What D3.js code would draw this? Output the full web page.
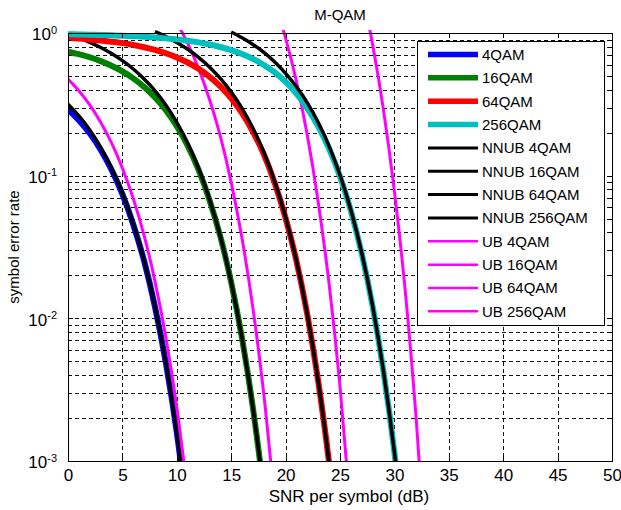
<!DOCTYPE html>
<html lang="en">
<head>
<meta charset="utf-8">
<title>M-QAM</title>
<script src="https://d3js.org/d3.v7.min.js"></script>
<style>
body{
  margin: 0;
  background: #fff;
}
text{
  font-family: Arial, "Liberation Sans", sans-serif;
  fill: #000;
}
.axis path, .axis line{
  fill: none;
  stroke: #000;
  shape-rendering: crispEdges;
}
.grid line{
  stroke: #111;
  stroke-dasharray: 4,3;
  shape-rendering: crispEdges;
}
</style>
</head>
<body>
<div id="chart"></div>
<script>
// values (SNR in dB, symbol error rate)
var snr4 = [0,1,2,3,4,5,6,7,8,9,10,11];
var ser4QAM  = [0.292,0.245,0.198,0.152,0.110,0.0742,0.0455,0.0252,0.0120,0.00487,0.00159,0.000394];
var nnub4QAM = [0.317,0.262,0.209,0.158,0.113,0.0756,0.0460,0.0253,0.01204,0.00488,0.00159,0.000394];
var ub4QAM   = [0.476,0.394,0.313,0.237,0.170,0.113,0.069,0.038,0.0181,0.00732,0.00238,0.00059];

var snr16 = [0,1,2,3,4,5,6,7,8,9,10,11,12,13,14,15,16,17,18,19];
var ser16QAM  = [0.741,0.710,0.676,0.635,0.589,0.538,0.481,0.419,0.354,0.288,0.222,0.162,0.1096,0.0675,0.0374,0.0179,0.00722,0.00235,0.000585,0.000101];
var nnub16QAM = [0.983,0.924,0.861,0.792,0.718,0.640,0.559,0.4755,0.393,0.312,0.236,0.169,0.1128,0.0687,0.0377,0.0179,0.00723,0.00235,0.000585,0.000101];
var snrUb16 = [10,11,12,13,14,15,16,17,18,19];
var ub16QAM = [1.18,0.846,0.564,0.3435,0.189,0.0897,0.0362,0.01175,0.00293,0.000504];

var snr64 = [0,1,2,3,4,5,6,7,8,9,10,11,12,13,14,15,16,17,18,19,20,21,22,23,24,25];
var ser64QAM = [0.924,0.914,0.901,0.887,0.869,0.849,0.824,0.795,0.761,0.721,0.674,0.621,0.561,0.494,0.422,0.348,0.274,0.203,0.141,0.0889,0.0504,0.0252,0.0106,0.00361,0.000965,0.000185];
var snrNnub64 = [8,9,10,11,12,13,14,15,16,17,18,19,20,21,22,23,24,25];
var nnub64QAM = [1.022,0.943,0.858,0.769,0.675,0.578,0.480,0.385,0.296,0.215,0.146,0.091,0.0511,0.0253,0.0106,0.00362,0.000966,0.000185];
var snrUb64 = [19,20,21,22,23,24,25,26];
var ub64QAM = [1.64,0.920,0.456,0.1915,0.0652,0.0174,0.00333,0.00042];

var snr256 = [0,1,2,3,4,5,6,7,8,9,10,11,12,13,14,15,16,17,18,19,20,21,22,23,24,25,26,27,28,29,30,31];
var ser256QAM = [0.979,0.977,0.973,0.969,0.964,0.958,0.950,0.941,0.930,0.917,0.902,0.882,0.859,0.831,0.798,0.758,0.712,0.658,0.597,0.529,0.454,0.376,0.297,0.222,0.154,0.0987,0.0566,0.0284,0.0121,0.00423,0.00115,0.000227];
var snrNnub256 = [15,16,17,18,19,20,21,22,23,24,25,26,27,28,29,30,31];
var nnub256QAM = [1.017,0.926,0.831,0.731,0.627,0.522,0.420,0.324,0.236,0.161,0.101,0.0575,0.0287,0.0122,0.00424,0.00115,0.000227];
var snrUb256 = [27,28,29,30,31,32,33];
var ub256QAM = [1.95,0.829,0.288,0.078,0.0155,0.00199,0.00016];

var xTicks = [0,5,10,15,20,25,30,35,40,45,50];
var yTicks = [0.001,0.01,0.1,1];
var yExponents = ["-3","-2","-1","0"];
var legendLabels = ["4QAM","16QAM","64QAM","256QAM","NNUB 4QAM","NNUB 16QAM","NNUB 64QAM","NNUB 256QAM","UB 4QAM","UB 16QAM","UB 64QAM","UB 256QAM"];

var W = 621, H = 510;
var pLeft = 68, pRight = 612, pTop = 33, pBottom = 461;

var svg = d3.select("#chart").append("svg")
  .attr("width", W)
  .attr("height", H);

var x = d3.scaleLinear().domain([0, 50]).range([pLeft, pRight]);
var y = d3.scaleLog().domain([0.001, 1]).range([pBottom, pTop]);

// minor log ticks 2..9 per decade
var yMinor = [];
[0.001, 0.01, 0.1].forEach(function(d) {
  for (var k = 2; k <= 9; k++) yMinor.push(d * k);
});

// grid
var grid = svg.append("g").attr("class", "grid");
grid.selectAll(".gx").data(xTicks.slice(1, -1)).enter().append("line")
  .attr("x1", function(d) { return Math.round(x(d)) + 0.5; })
  .attr("x2", function(d) { return Math.round(x(d)) + 0.5; })
  .attr("y1", pTop).attr("y2", pBottom);
grid.selectAll(".gy").data(yMinor.concat([0.01, 0.1])).enter().append("line")
  .attr("y1", function(d) { return Math.round(y(d)) + 0.5; })
  .attr("y2", function(d) { return Math.round(y(d)) + 0.5; })
  .attr("x1", pLeft).attr("x2", pRight);

// curves, drawn group by group
var curves = [
  {snr: snr4, v: ser4QAM, c: "#0000ff", w: 6},
  {snr: snr4, v: nnub4QAM, c: "#000000", w: 3.5},
  {snr: snr4, v: ub4QAM, c: "#ff00ff", w: 3},
  {snr: snr16, v: ser16QAM, c: "#008000", w: 6},
  {snr: snr16, v: nnub16QAM, c: "#000000", w: 3.5},
  {snr: snrUb16, v: ub16QAM, c: "#ff00ff", w: 3},
  {snr: snr64, v: ser64QAM, c: "#ff0000", w: 6},
  {snr: snrNnub64, v: nnub64QAM, c: "#000000", w: 3.5},
  {snr: snrUb64, v: ub64QAM, c: "#ff00ff", w: 3},
  {snr: snr256, v: ser256QAM, c: "#00bfbf", w: 6},
  {snr: snrNnub256, v: nnub256QAM, c: "#000000", w: 3.5},
  {snr: snrUb256, v: ub256QAM, c: "#ff00ff", w: 3}
];

svg.append("clipPath").attr("id", "clip")
  .append("rect")
  .attr("x", pLeft).attr("y", pTop - 3)
  .attr("width", pRight - pLeft).attr("height", pBottom - pTop + 3);

var line = d3.line()
  .x(function(d) { return x(d[0]); })
  .y(function(d) { return y(d[1]); })
  .curve(d3.curveMonotoneX);

svg.append("g").attr("clip-path", "url(#clip)")
  .selectAll("path").data(curves).enter().append("path")
  .attr("fill", "none")
  .attr("stroke", function(d) { return d.c; })
  .attr("stroke-width", function(d) { return d.w; })
  .attr("stroke-linejoin", "round")
  .attr("d", function(d) { return line(d.snr.map(function(s, i) { return [s, d.v[i]]; })); });

// axes (box with inward ticks)
var gx = svg.append("g").attr("class", "axis")
  .attr("transform", "translate(0," + pBottom + ")")
  .call(d3.axisBottom(x).tickValues(xTicks).tickSizeInner(-5).tickSizeOuter(0).tickPadding(8));
gx.selectAll("text").attr("font-size", "17px");

svg.append("g").attr("class", "axis")
  .attr("transform", "translate(0," + pTop + ")")
  .call(d3.axisTop(x).tickValues(xTicks).tickSizeInner(-5).tickSizeOuter(0).tickFormat(""));

var gy = svg.append("g").attr("class", "axis")
  .attr("transform", "translate(" + pLeft + ",0)")
  .call(d3.axisLeft(y).tickValues(yTicks).tickSizeInner(-5).tickSizeOuter(0).tickPadding(11).tickFormat(""));
gy.selectAll(".tick text").each(function(d, i) {
  var t = d3.select(this).attr("font-size", "17px").attr("dy", "0.4em");
  t.append("tspan").text("10");
  t.append("tspan").attr("dy", "-0.6em").attr("font-size", "11px").text(yExponents[i]);
});
svg.append("g").attr("class", "axis")
  .attr("transform", "translate(" + pLeft + ",0)")
  .call(d3.axisLeft(y).tickValues(yMinor).tickSizeInner(-3).tickSizeOuter(0).tickFormat(""))
  .select(".domain").remove();

svg.append("g").attr("class", "axis")
  .attr("transform", "translate(" + pRight + ",0)")
  .call(d3.axisRight(y).tickValues(yTicks).tickSizeInner(-5).tickSizeOuter(0).tickFormat(""));
svg.append("g").attr("class", "axis")
  .attr("transform", "translate(" + pRight + ",0)")
  .call(d3.axisRight(y).tickValues(yMinor).tickSizeInner(-3).tickSizeOuter(0).tickFormat(""))
  .select(".domain").remove();

// titles
svg.append("text")
  .attr("x", (pLeft + pRight) / 2).attr("y", 20)
  .attr("text-anchor", "middle").attr("font-size", "15px")
  .text("M-QAM");
svg.append("text")
  .attr("x", (pLeft + pRight) / 2 + 9).attr("y", 502)
  .attr("text-anchor", "middle").attr("font-size", "17px")
  .text("SNR per symbol (dB)");
svg.append("text")
  .attr("transform", "translate(19," + ((pTop + pBottom) / 2) + ") rotate(-90)")
  .attr("text-anchor", "middle").attr("font-size", "15px")
  .text("symbol error rate");

// legend
var lg = svg.append("g").attr("transform", "translate(417,41)");
lg.append("rect")
  .attr("x", 0.5).attr("y", 0.5)
  .attr("width", 187).attr("height", 284)
  .attr("fill", "#fff").attr("stroke", "#000");
var order = [0, 3, 6, 9, 1, 4, 7, 10, 2, 5, 8, 11];
var items = lg.selectAll(".item").data(legendLabels).enter().append("g")
  .attr("transform", function(d, i) { return "translate(0," + (13.5 + i * 23.35) + ")"; });
items.append("line")
  .attr("x1", 11).attr("x2", 61)
  .attr("stroke", function(d, i) { return curves[order[i]].c; })
  .attr("stroke-width", function(d, i) { return curves[order[i]].w - 0.5; });
items.append("text")
  .attr("x", 65).attr("dy", "0.36em")
  .attr("font-size", "15px")
  .text(function(d) { return d; });
</script>
</body>
</html>
